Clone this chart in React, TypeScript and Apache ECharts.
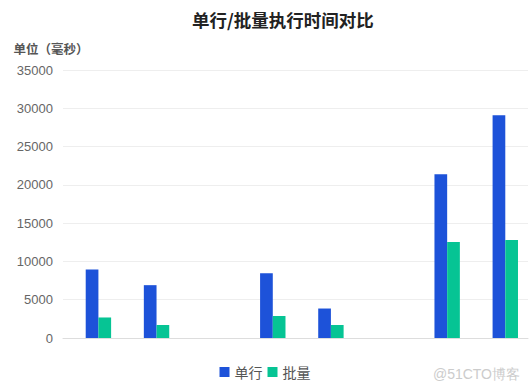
import React, { useEffect, useRef } from "react";
import * as echarts from "echarts";

const categories = ["1", "2", "3", "4", "5", "6", "7", "8"];
const placeholderValues: (number | null)[] = [null, null, null, null, null, null, null, null];
const singleValues: (number | null)[] = [8950, 6900, null, 8450, 3850, null, 21400, 29100];
const batchValues: (number | null)[] = [2680, 1700, null, 2870, 1700, null, 12550, 12800];
const legendNames = ["单行", "批量"];

export default function App() {
  const ref = useRef<HTMLDivElement>(null);
  useEffect(() => {
    if (!ref.current) return;
    const chart = echarts.init(ref.current, null, { renderer: "svg" });
    chart.setOption({
      animation: false,
      title: {
        text: "单行/批量执行时间对比",
        left: 187,
        top: 6,
        textStyle: { fontSize: 17.5, fontWeight: "bold", color: "#222", fontFamily: "Noto Sans CJK SC" },
      },
      legend: {
        data: legendNames,
        bottom: 6,
        left: "center",
        itemWidth: 10,
        itemHeight: 10,
        itemGap: 5,
        icon: "rect",
        textStyle: { fontSize: 14, color: "#555", fontFamily: "Noto Sans CJK SC" },
      },
      grid: { left: 63, right: 2, top: 70, bottom: 52, containLabel: false },
      xAxis: {
        type: "category",
        data: categories,
        axisTick: { show: false },
        axisLabel: { show: false },
        axisLine: { lineStyle: { color: "#ddd" } },
      },
      yAxis: {
        type: "value",
        name: "单位（毫秒）",
        nameLocation: "end",
        nameGap: 15,
        nameTextStyle: {
          color: "#555",
          fontSize: 12.5,
          fontWeight: "bold",
          fontFamily: "Noto Sans CJK SC",
          align: "center",
          padding: [0, 0, 0, -24],
        },
        min: 0,
        max: 35000,
        interval: 5000,
        axisLabel: { color: "#666", fontSize: 13, margin: 10, formatter: (v: number) => String(v) },
        splitLine: { lineStyle: { color: "#eeeeee" } },
      },
      series: [
        { name: "", type: "bar", data: placeholderValues, barWidth: 12.7, barGap: "0%" },
        { name: legendNames[0], type: "bar", data: singleValues, barWidth: 12.7, barGap: "0%", itemStyle: { color: "#1D52D9" } },
        { name: legendNames[1], type: "bar", data: batchValues, barWidth: 12.7, barGap: "0%", itemStyle: { color: "#06C494" } },
      ],
      graphic: [
        {
          type: "text",
          right: 10,
          bottom: 9,
          style: { text: "@51CTO博客", fill: "#cccccc", fontSize: 14 },
        },
      ],
    });
    return () => chart.dispose();
  }, []);
  return <div ref={ref} style={{ width: 530, height: 390, position: "absolute", left: 0, top: 0 }} />;
}
